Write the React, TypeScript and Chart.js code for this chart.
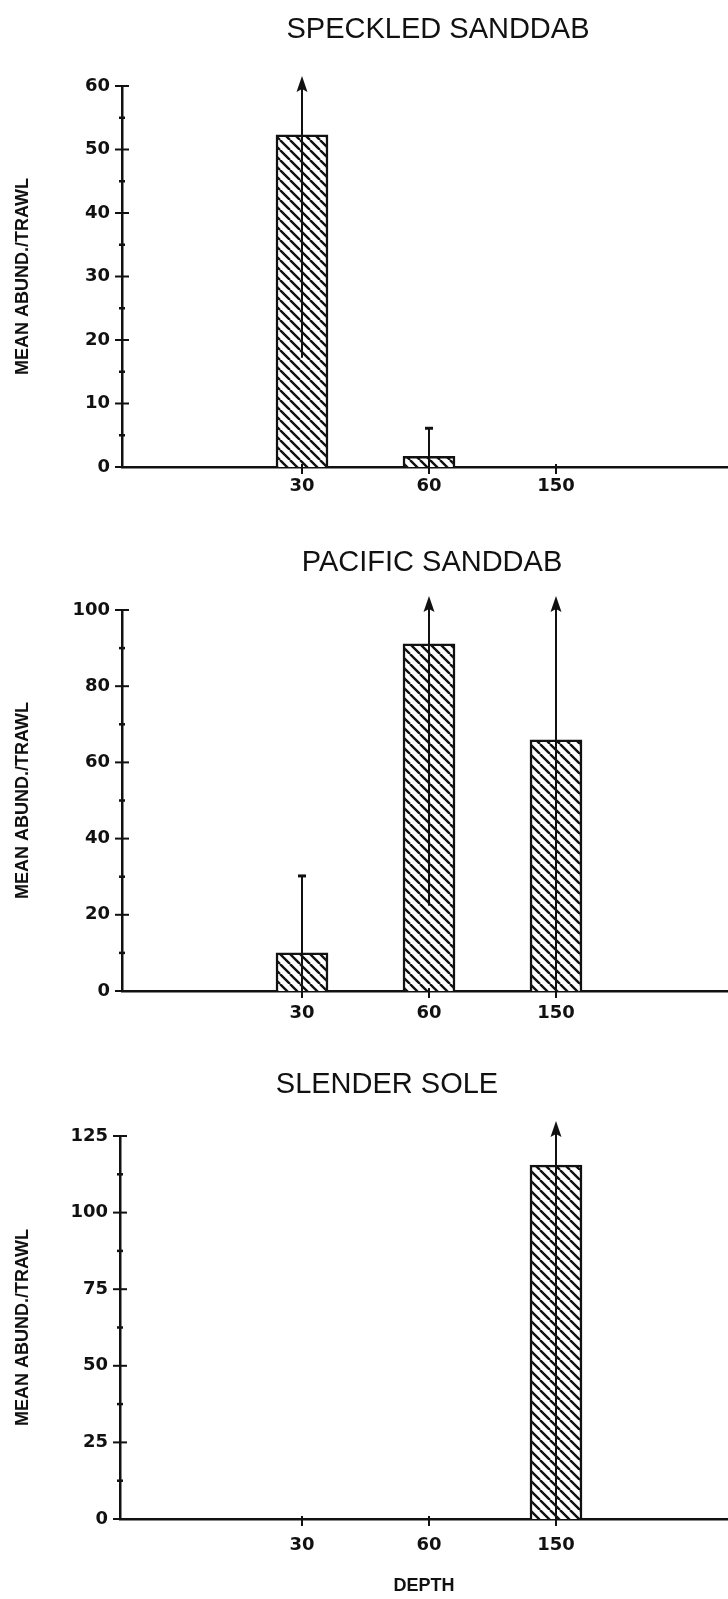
import React, { useEffect, useRef } from "react";
import { Chart, registerables } from "chart.js";

Chart.register(...registerables);

// ---------- data ----------
const depthLabels = ["30", "60", "150"];
const depthPositions = [0, 1, 2];

const speckledMean = [52.3, 1.7, 0];
const speckledSD = [35.1, 4.4, 0];
const speckledTicks = [0, 10, 20, 30, 40, 50, 60];
const speckledMinor = [5, 15, 25, 35, 45, 55];

const pacificMean = [10.0, 91.1, 65.9];
const pacificSD = [20.2, 68.7, 70.0];
const pacificTicks = [0, 20, 40, 60, 80, 100];
const pacificMinor = [10, 30, 50, 70, 90];

const slenderMean = [0, 0, 115.5];
const slenderSD = [0, 0, 120.0];
const slenderTicks = [0, 25, 50, 75, 100, 125];
const slenderMinor = [12.5, 37.5, 62.5, 87.5, 112.5];

const yTitle = "MEAN ABUND./TRAWL";
const xTitle = "DEPTH";

// ---------- layout ----------
const W = 728;
const INK = "#111";
const CAT_SPACING = 127;
const FIRST_CAT_PX = 302;

interface PanelCfg {
  title: string;
  titleX: number;
  titleY: number;
  means: number[];
  sds: number[];
  ticks: number[];
  minor: number[];
  top: number;
  height: number;
  plotTop: number;
  plotHeight: number;
  axisLeft: number;
  xPad: number;
  arrowOffset: number;
  showDepth: boolean;
}

const panels: PanelCfg[] = [
  {
    title: "SPECKLED SANDDAB", titleX: 438, titleY: 30,
    means: speckledMean, sds: speckledSD, ticks: speckledTicks, minor: speckledMinor,
    top: 0, height: 524, plotTop: 86, plotHeight: 381, axisLeft: 122, xPad: 9,
    arrowOffset: 10, showDepth: false,
  },
  {
    title: "PACIFIC SANDDAB", titleX: 432, titleY: 39,
    means: pacificMean, sds: pacificSD, ticks: pacificTicks, minor: pacificMinor,
    top: 524, height: 526, plotTop: 86, plotHeight: 381, axisLeft: 122, xPad: 12,
    arrowOffset: 14, showDepth: false,
  },
  {
    title: "SLENDER SOLE", titleX: 387, titleY: 35,
    means: slenderMean, sds: slenderSD, ticks: slenderTicks, minor: slenderMinor,
    top: 1050, height: 549, plotTop: 86, plotHeight: 383, axisLeft: 120, xPad: 16,
    arrowOffset: 15, showDepth: true,
  },
];

function makeHatch(): CanvasPattern | string {
  const s = 10;
  const c = document.createElement("canvas");
  c.width = s;
  c.height = s;
  const g = c.getContext("2d");
  if (!g) return "#fff";
  g.fillStyle = "#fff";
  g.fillRect(0, 0, s, s);
  g.strokeStyle = INK;
  g.lineWidth = 2.4;
  g.beginPath();
  for (const k of [-s, 0, s]) {
    g.moveTo(k, 0);
    g.lineTo(k + s, s);
  }
  g.stroke();
  return g.createPattern(c, "repeat") || "#fff";
}

function Panel({ cfg }: { cfg: PanelCfg }) {
  const ref = useRef<HTMLCanvasElement | null>(null);

  useEffect(() => {
    const canvas = ref.current;
    if (!canvas) return;
    const hatch = makeHatch();
    const xMin = -(FIRST_CAT_PX - cfg.axisLeft) / CAT_SPACING;
    const xMax = (W - FIRST_CAT_PX) / CAT_SPACING;
    const yMax = cfg.ticks[cfg.ticks.length - 1];
    const xHeight = cfg.height - cfg.plotTop - cfg.plotHeight;

    const line = (ctx: CanvasRenderingContext2D, x1: number, y1: number, x2: number, y2: number) => {
      ctx.beginPath();
      ctx.moveTo(x1, y1);
      ctx.lineTo(x2, y2);
      ctx.stroke();
    };

    const decorations = {
      id: "decorations",
      afterDatasetsDraw(chart: any) {
        const ctx: CanvasRenderingContext2D = chart.ctx;
        const { x, y } = chart.scales;
        const area = chart.chartArea;
        ctx.save();
        ctx.strokeStyle = INK;
        ctx.fillStyle = INK;
        // error bars
        const meta = chart.getDatasetMeta(0);
        meta.data.forEach((bar: any, i: number) => {
          const sd = cfg.sds[i];
          if (!sd) return;
          const lo = Math.max(0, cfg.means[i] - sd);
          const hi = cfg.means[i] + sd;
          const px = bar.x;
          const yLo = y.getPixelForValue(lo);
          const over = hi > yMax;
          const yHi = over ? area.top - cfg.arrowOffset : y.getPixelForValue(hi);
          ctx.lineWidth = 2;
          line(ctx, px, yLo, px, over ? yHi + 8 : yHi);
          if (over) {
            ctx.beginPath();
            ctx.moveTo(px, yHi);
            ctx.lineTo(px - 5.5, yHi + 16);
            ctx.lineTo(px, yHi + 13);
            ctx.lineTo(px + 5.5, yHi + 16);
            ctx.closePath();
            ctx.fill();
          } else {
            ctx.lineWidth = 3;
            line(ctx, px - 4, yHi, px + 4, yHi);
          }
        });
        // axis tick marks
        const ax = area.left;
        ctx.lineWidth = 2;
        for (const v of cfg.ticks) {
          const py = y.getPixelForValue(v);
          line(ctx, ax - 7, py, ax + 7, py);
        }
        ctx.lineWidth = 2.5;
        for (const v of cfg.minor) {
          const py = y.getPixelForValue(v);
          line(ctx, ax - 3, py, ax + 3, py);
        }
        ctx.lineWidth = 2;
        const by = area.bottom;
        for (const v of depthPositions) {
          const px = x.getPixelForValue(v);
          line(ctx, px, by - 3, px, by + 7);
        }
        // panel title
        ctx.font = "29px 'Liberation Sans', Arial, sans-serif";
        ctx.textAlign = "center";
        ctx.textBaseline = "middle";
        ctx.fillText(cfg.title, cfg.titleX, cfg.titleY);
        ctx.restore();
      },
    };

    const tickFont = { family: "'DejaVu Sans', sans-serif", weight: "bold" as const, size: 18 };

    const chart = new Chart(canvas, {
      type: "bar",
      data: {
        datasets: [
          {
            data: depthPositions.map((p, i) => ({ x: p, y: cfg.means[i] })),
            backgroundColor: hatch as any,
            borderColor: INK,
            borderWidth: 2.5,
            barThickness: 52,
          },
        ],
      },
      options: {
        responsive: false,
        animation: false,
        events: [],
        layout: { padding: { top: cfg.plotTop, left: 0, right: 0, bottom: 0 } },
        plugins: {
          legend: { display: false },
          tooltip: { enabled: false },
          title: { display: false },
        },
        scales: {
          x: {
            type: "linear",
            offset: false,
            min: xMin,
            max: xMax,
            afterBuildTicks: (s: any) => {
              s.ticks = depthPositions.map((v) => ({ value: v }));
            },
            afterFit: (s: any) => {
              s.height = xHeight;
            },
            grid: { display: false, drawTicks: false, offset: false },
            border: { display: true, color: INK, width: 2.5 },
            ticks: {
              autoSkip: false,
              maxRotation: 0,
              color: INK,
              font: tickFont,
              padding: cfg.xPad,
              callback: (v: any) => {
                const idx = depthPositions.indexOf(Number(v));
                return idx >= 0 ? depthLabels[idx] : "";
              },
            },
            title: {
              display: cfg.showDepth,
              text: xTitle,
              color: INK,
              font: { family: "'Liberation Sans', Arial, sans-serif", weight: "bold", size: 18 },
              padding: { top: 0, bottom: 2 },
            },
          },
          y: {
            min: 0,
            max: yMax,
            afterBuildTicks: (s: any) => {
              s.ticks = cfg.ticks.map((v) => ({ value: v }));
            },
            afterFit: (s: any) => {
              s.width = cfg.axisLeft;
            },
            grid: { display: false, drawTicks: false },
            border: { display: true, color: INK, width: 2.5 },
            ticks: {
              color: INK,
              font: tickFont,
              padding: 12,
              callback: (v: any) => String(v),
            },
            title: {
              display: true,
              text: yTitle,
              color: INK,
              font: { family: "'Liberation Sans', Arial, sans-serif", weight: "bold", size: 18 },
              padding: { top: 12, bottom: 0 },
            },
          },
        },
      },
      plugins: [decorations],
    } as any);

    return () => chart.destroy();
  }, [cfg]);

  return (
    <canvas
      ref={ref}
      width={W}
      height={cfg.height}
      style={{ position: "absolute", left: 0, top: cfg.top, width: W, height: cfg.height, display: "block" }}
    />
  );
}

export default function App() {
  return (
    <div style={{ position: "absolute", left: 0, top: 0, width: W, height: 1599, background: "#fff" }}>
      {panels.map((p) => (
        <Panel key={p.title} cfg={p} />
      ))}
    </div>
  );
}
